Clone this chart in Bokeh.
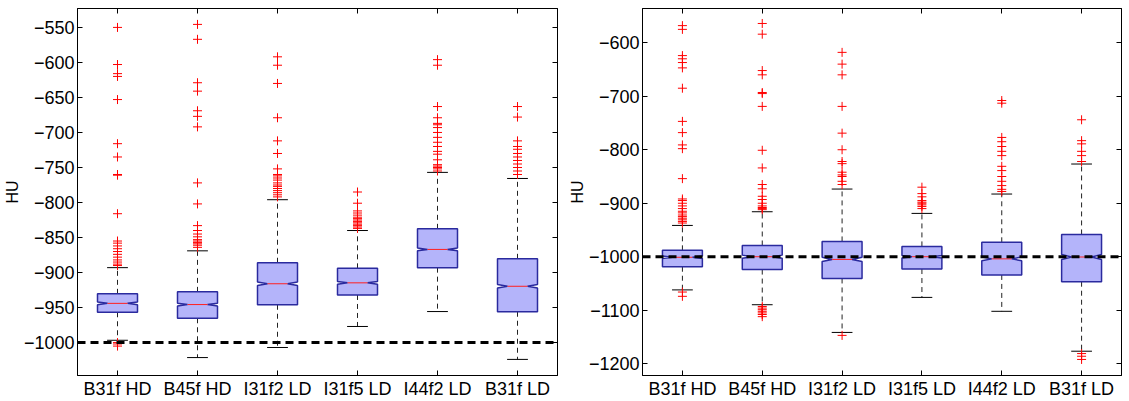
from bokeh.plotting import figure
from bokeh.layouts import row
from bokeh.models import FixedTicker, LinearAxis, Span, Range1d, CustomLabelingPolicy
from bokeh.embed import file_html
from bokeh.resources import INLINE

cats = ["B31f HD", "B45f HD", "I31f2 LD", "I31f5 LD", "I44f2 LD", "B31f LD"]

# Left panel
L_q1 = [-956.7, -965.3, -946, -932, -893, -956]
L_q3 = [-930.4, -927.6, -886, -894, -837.6, -880.4]
L_med = [-944, -945.7, -916, -914.7, -867, -919.6]
L_lo = [-996.7, -1021.4, -1007, -977, -955.7, -1024]
L_hi = [-893, -869, -796, -840, -757, -765.7]
L_notch = [2, 2, 2.5, 2, 2, 2.5]
L_out = [
    [-550, -603, -616, -620, -653, -716, -735, -760, -761, -816, -855, -858, -862, -866, -870, -874, -878, -882, -885, -888, -890, -1000, -1002, -1005],
    [-545.7, -567, -629, -641, -669, -677, -692, -772, -802, -833, -840, -845, -849, -853, -855, -857, -859, -861, -864],
    [-592, -604, -630, -679, -712, -730, -752, -760, -762, -765, -768, -772, -775, -777, -780, -783, -786, -789, -792],
    [-785, -801, -812, -815, -818, -821, -823, -825, -827, -829, -831, -833, -835, -837],
    [-596, -604, -663, -679, -687, -689, -693, -700, -707, -714, -720, -727, -731, -739, -746, -748, -750, -752, -755],
    [-663, -678, -712, -720, -724, -730, -735, -740, -745, -750, -755, -760],
]
L_ticks = [-1000, -950, -900, -850, -800, -750, -700, -650, -600, -550]
L_tick_labels = ["−1000", "−950", "−900", "−850", "−800", "−750", "−700", "−650", "−600", "−550"]

# Right panel
R_q1 = [-1018.7, -1024, -1040.6, -1023, -1034, -1046.7]
R_q3 = [-988, -979, -971.4, -980.7, -973, -958.3]
R_med = [-1001, -1000, -1005, -1000, -1004, -1000.5]
R_lo = [-1062, -1089.7, -1141.5, -1076, -1102, -1176.6]
R_hi = [-941.5, -915.9, -873.5, -919, -882.8, -826.7]
R_notch = [2.5, 3, 4, 2.5, 3.5, 4.5]
R_out = [
    [-568, -575, -624, -630, -637, -647, -685, -747, -768, -791, -798, -854, -892, -895, -900, -905, -910, -915, -918, -922, -925, -928, -931, -934, -937, -1066, -1074],
    [-564, -584, -652, -660, -693, -695, -719, -801, -834, -865, -873, -887, -893, -900, -905, -908, -910, -912, -1093, -1096, -1099, -1102, -1105, -1108, -1112],
    [-618, -640, -660, -719, -769, -800, -822, -826, -842, -847, -850, -859, -865, -1147],
    [-870, -882, -888, -895, -898, -900, -903, -906, -910],
    [-708, -713, -777, -785, -794, -803, -811, -831, -839, -850, -859, -867, -874, -878],
    [-744, -783, -789, -803, -811, -822, -1181, -1186, -1192],
]
R_ticks = [-1200, -1100, -1000, -900, -800, -700, -600]
R_tick_labels = ["−1200", "−1100", "−1000", "−900", "−800", "−700", "−600"]

REF = -1000
FONT = "Liberation Sans"
BOX_FILL = "#b4b4fa"
BOX_LINE = "#2a2a9e"
HW = 0.25   # box half width
CW = 0.13   # cap half width


def no_labels():
    return CustomLabelingPolicy(code="""
        const all = [...indices]
        for (const i of all) indices.unset(i)
        return indices
    """)


def make_panel(q1, q3, med, lo, hi, notch, outs, ticks, tick_labels, yr, fw, mbl, mbr):
    p = figure(frame_width=fw, frame_height=367, output_backend="svg", toolbar_location=None,
               x_range=Range1d(0.5, 6.5), y_range=Range1d(*yr),
               min_border_left=mbl, min_border_right=mbr, min_border_top=8, min_border_bottom=22)
    p.grid.visible = False
    p.outline_line_color = "black"
    p.background_fill_color = "white"
    p.border_fill_color = "white"
    xs_pos = list(range(1, len(cats) + 1))

    # whiskers
    p.segment(x0=xs_pos, y0=q3, x1=xs_pos, y1=hi, line_color="#222222", line_width=1, line_dash="5 4")
    p.segment(x0=xs_pos, y0=q1, x1=xs_pos, y1=lo, line_color="#222222", line_width=1, line_dash="5 4")
    # caps
    p.segment(x0=[x - CW for x in xs_pos], y0=hi, x1=[x + CW for x in xs_pos], y1=hi, line_color="black", line_width=1)
    p.segment(x0=[x - CW for x in xs_pos], y0=lo, x1=[x + CW for x in xs_pos], y1=lo, line_color="black", line_width=1)

    # notched boxes
    pxs, pys = [], []
    for x, a, b, m, n in zip(xs_pos, q1, q3, med, notch):
        pxs.append([x - HW, x - HW, x - HW / 2, x - HW, x - HW, x + HW, x + HW, x + HW / 2, x + HW, x + HW])
        pys.append([a, m - n, m, m + n, b, b, m + n, m, m - n, a])
    p.patches(xs=pxs, ys=pys, fill_color=BOX_FILL, line_color=BOX_LINE, line_width=1.5)
    # medians
    p.segment(x0=[x - HW / 2 for x in xs_pos], y0=med, x1=[x + HW / 2 for x in xs_pos], y1=med,
              line_color="#ff2020", line_width=1)

    # outliers
    ox, oy = [], []
    for x, vals in zip(xs_pos, outs):
        for v in vals:
            ox.append(x)
            oy.append(v)
    p.scatter(x=ox, y=oy, marker="cross", size=9, line_color="#ff0000", line_width=1)

    # reference line
    p.add_layout(Span(location=REF, dimension="width", line_color="black", line_width=3, line_dash="8 5"))

    # axes
    p.xaxis.ticker = FixedTicker(ticks=xs_pos)
    p.xaxis.major_label_overrides = {x: c for x, c in zip(xs_pos, cats)}
    p.yaxis.ticker = FixedTicker(ticks=ticks)
    p.yaxis.major_label_overrides = {t: l for t, l in zip(ticks, tick_labels)}
    for ax in [p.xaxis[0], p.yaxis[0]]:
        ax.major_tick_in = 5
        ax.major_tick_out = 0
        ax.minor_tick_in = 0
        ax.minor_tick_out = 0
        ax.major_label_text_font = FONT
        ax.major_label_text_font_size = "18px"
        ax.major_label_text_color = "black"
        ax.major_label_standoff = 3
        ax.axis_line_color = "black"
        ax.major_tick_line_color = "black"
    p.yaxis.axis_label = "HU"
    p.yaxis.axis_label_text_font = FONT
    p.yaxis.axis_label_text_font_size = "16px"
    p.yaxis.axis_label_text_font_style = "normal"
    p.yaxis.axis_label_text_color = "black"
    p.yaxis.axis_label_standoff = 0

    top = LinearAxis(ticker=FixedTicker(ticks=xs_pos), major_tick_in=5, major_tick_out=0,
                     minor_tick_in=0, minor_tick_out=0, major_label_policy=no_labels(),
                     major_label_text_font_size="0px",
                     major_label_standoff=0, axis_line_color="black")
    right = LinearAxis(ticker=FixedTicker(ticks=ticks), major_tick_in=5, major_tick_out=0,
                       minor_tick_in=0, minor_tick_out=0, major_label_policy=no_labels(),
                       major_label_text_font_size="0px",
                       major_label_standoff=0, axis_line_color="black")
    p.add_layout(top, "above")
    p.add_layout(right, "right")
    return p


p1 = make_panel(L_q1, L_q3, L_med, L_lo, L_hi, L_notch, L_out, L_ticks, L_tick_labels,
                (-1047, -523), 480, 72, 8)
p2 = make_panel(R_q1, R_q3, R_med, R_lo, R_hi, R_notch, R_out, R_ticks, R_tick_labels,
                (-1222, -536), 479, 71, 3)

layout = row(p1, p2)
open("out.html", "w").write(file_html(layout, INLINE))
